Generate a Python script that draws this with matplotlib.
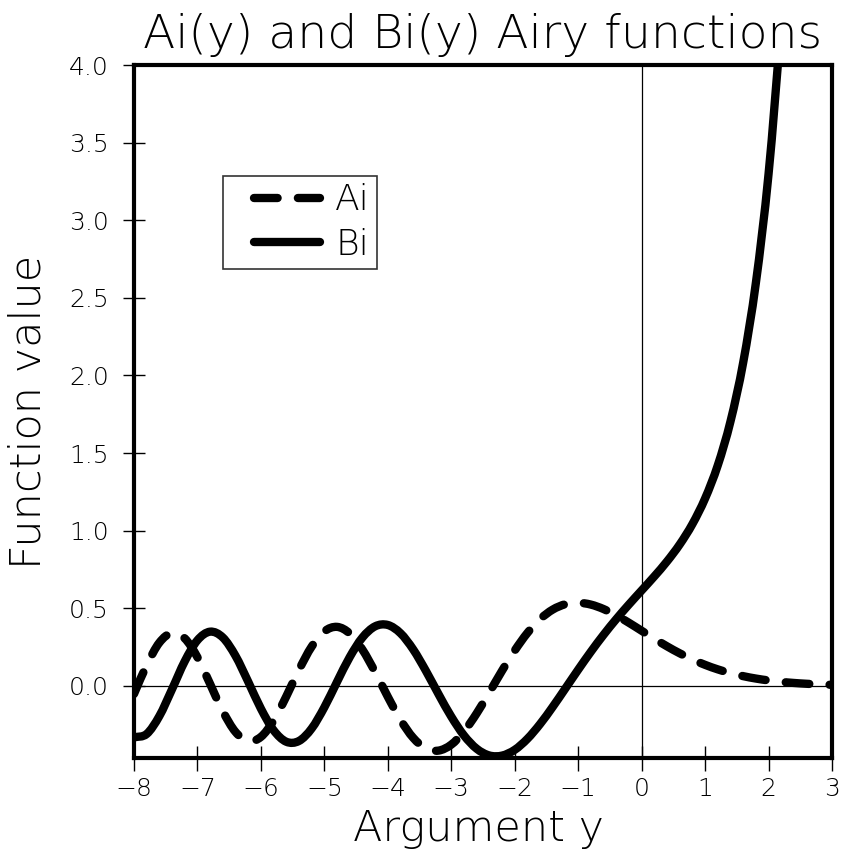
import matplotlib.pyplot as plt
import numpy as np
from matplotlib.legend_handler import HandlerLine2D
from matplotlib.lines import Line2D
from matplotlib.patches import PathPatch
from matplotlib.path import Path

plt.rcParams['font.family'] = ['DejaVu Sans']
plt.rcParams['font.weight'] = 200
plt.rcParams['axes.titleweight'] = 200
plt.rcParams['axes.labelweight'] = 200
plt.rcParams['lines.scale_dashes'] = False

# argument grid, step 0.2
x_ai = [-8.0, -7.8, -7.6, -7.4, -7.2, -7.0, -6.8, -6.6, -6.4, -6.2,
        -6.0, -5.8, -5.6, -5.4, -5.2, -5.0, -4.8, -4.6, -4.4, -4.2,
        -4.0, -3.8, -3.6, -3.4, -3.2, -3.0, -2.8, -2.6, -2.4, -2.2,
        -2.0, -1.8, -1.6, -1.4, -1.2, -1.0, -0.8, -0.6, -0.4, -0.2,
        0.0, 0.2, 0.4, 0.6, 0.8, 1.0, 1.2, 1.4, 1.6, 1.8,
        2.0, 2.2, 2.4, 2.6, 2.8, 3.0]
ai = [-0.0527, 0.1329, 0.2783, 0.3413, 0.3059, 0.1843, 0.0121, -0.1635, -0.2971, -0.3564,
      -0.3291, -0.2243, -0.0683, 0.1030, 0.2526, 0.3508, 0.3800, 0.3375, 0.2336, 0.0891,
      -0.0703, -0.2189, -0.3348, -0.4032, -0.4173, -0.3788, -0.2946, -0.1778, -0.0425, 0.0972,
      0.2274, 0.3408, 0.4299, 0.4917, 0.5262, 0.5356, 0.5236, 0.4949, 0.4542, 0.4063,
      0.3550, 0.3037, 0.2547, 0.2098, 0.1698, 0.1353, 0.1061, 0.0820, 0.0625, 0.0470,
      0.0349, 0.0256, 0.0186, 0.0133, 0.0094, 0.0066]

x_bi = x_ai[:52]
bi = [-0.3323, -0.3103, -0.1949, -0.0216, 0.1582, 0.2938, 0.3491, 0.3116, 0.1935, 0.0268,
      -0.1466, -0.2859, -0.3602, -0.3553, -0.2750, -0.1384, 0.0257, 0.1852, 0.3113, 0.3835,
      0.3922, 0.3390, 0.2347, 0.0969, -0.0541, -0.1981, -0.3195, -0.4050, -0.4487, -0.4495,
      -0.4123, -0.3414, -0.2460, -0.1347, -0.0158, 0.1040, 0.2198, 0.3288, 0.4300, 0.5245,
      0.6149, 0.7055, 0.8018, 0.9111, 1.0424, 1.2074, 1.4211, 1.7037, 2.0825, 2.5959,
      3.2981, 4.2670]

DASH = (17, 14.6)


def smooth_path(xs, ys):
    # Catmull-Rom curve through the points, as cubic Bezier segments
    pts = np.column_stack([xs, ys])
    ext = np.vstack([2 * pts[0] - pts[1], pts, 2 * pts[-1] - pts[-2]])
    verts = [pts[0]]
    codes = [Path.MOVETO]
    for i in range(1, len(ext) - 2):
        p0, p1, p2, p3 = ext[i - 1], ext[i], ext[i + 1], ext[i + 2]
        verts += [p1 + (p2 - p0) / 6, p2 - (p3 - p1) / 6, p2]
        codes += [Path.CURVE4] * 3
    return Path(verts, codes)


fig = plt.figure(figsize=(8.41, 8.65), dpi=100)
ax = fig.add_axes([0.1593, 0.1237, 0.830, 0.801])

# zero reference lines
ax.axhline(0, color='k', lw=0.9, zorder=1)
ax.axvline(0, color='k', lw=0.9, zorder=1)

ax.add_patch(PathPatch(smooth_path(x_ai, ai), fill=False, edgecolor='k', lw=6,
                       linestyle=(0, DASH), capstyle='round', joinstyle='round', zorder=3))
ax.add_patch(PathPatch(smooth_path(x_bi, bi), fill=False, edgecolor='k', lw=6,
                       capstyle='round', joinstyle='round', zorder=3))

ax.set_xlim(-8, 3)
ax.set_ylim(-0.465, 4.0)
ax.set_xticks(range(-8, 4))
ax.set_yticks(np.arange(0, 4.01, 0.5))
ax.yaxis.set_major_formatter('{x:.1f}')
ax.tick_params(axis='x', direction='inout', length=18, width=1, labelsize=18, pad=5)
ax.tick_params(axis='y', direction='inout', length=16, width=1, labelsize=18, pad=10)
for s in ax.spines.values():
    s.set_linewidth(3)

ax.set_title('Ai(y) and Bi(y) Airy functions', fontsize=34, pad=12)
ax.set_xlabel('Argument y', fontsize=31)
ax.xaxis.set_label_coords(0.493, -0.072)
ax.set_ylabel('Function value', fontsize=31)
ax.yaxis.set_label_coords(-0.122, 0.5)

handles = [Line2D([], [], color='k', lw=6, dashes=DASH, dash_capstyle='round'),
           Line2D([], [], color='k', lw=6, solid_capstyle='round')]
pad_handler = HandlerLine2D(xpad=0.65)
leg = ax.legend(handles, ['Ai', 'Bi'], loc='upper left', bbox_to_anchor=(0.1275, 0.84),
                fontsize=26, handlelength=2.49, handletextpad=0.42, borderpad=0.2,
                labelspacing=0.3, frameon=True, fancybox=False, edgecolor='k',
                borderaxespad=0, handler_map={Line2D: pad_handler})
leg.get_frame().set_linewidth(1.2)

fig.savefig('out.png', dpi=100)
